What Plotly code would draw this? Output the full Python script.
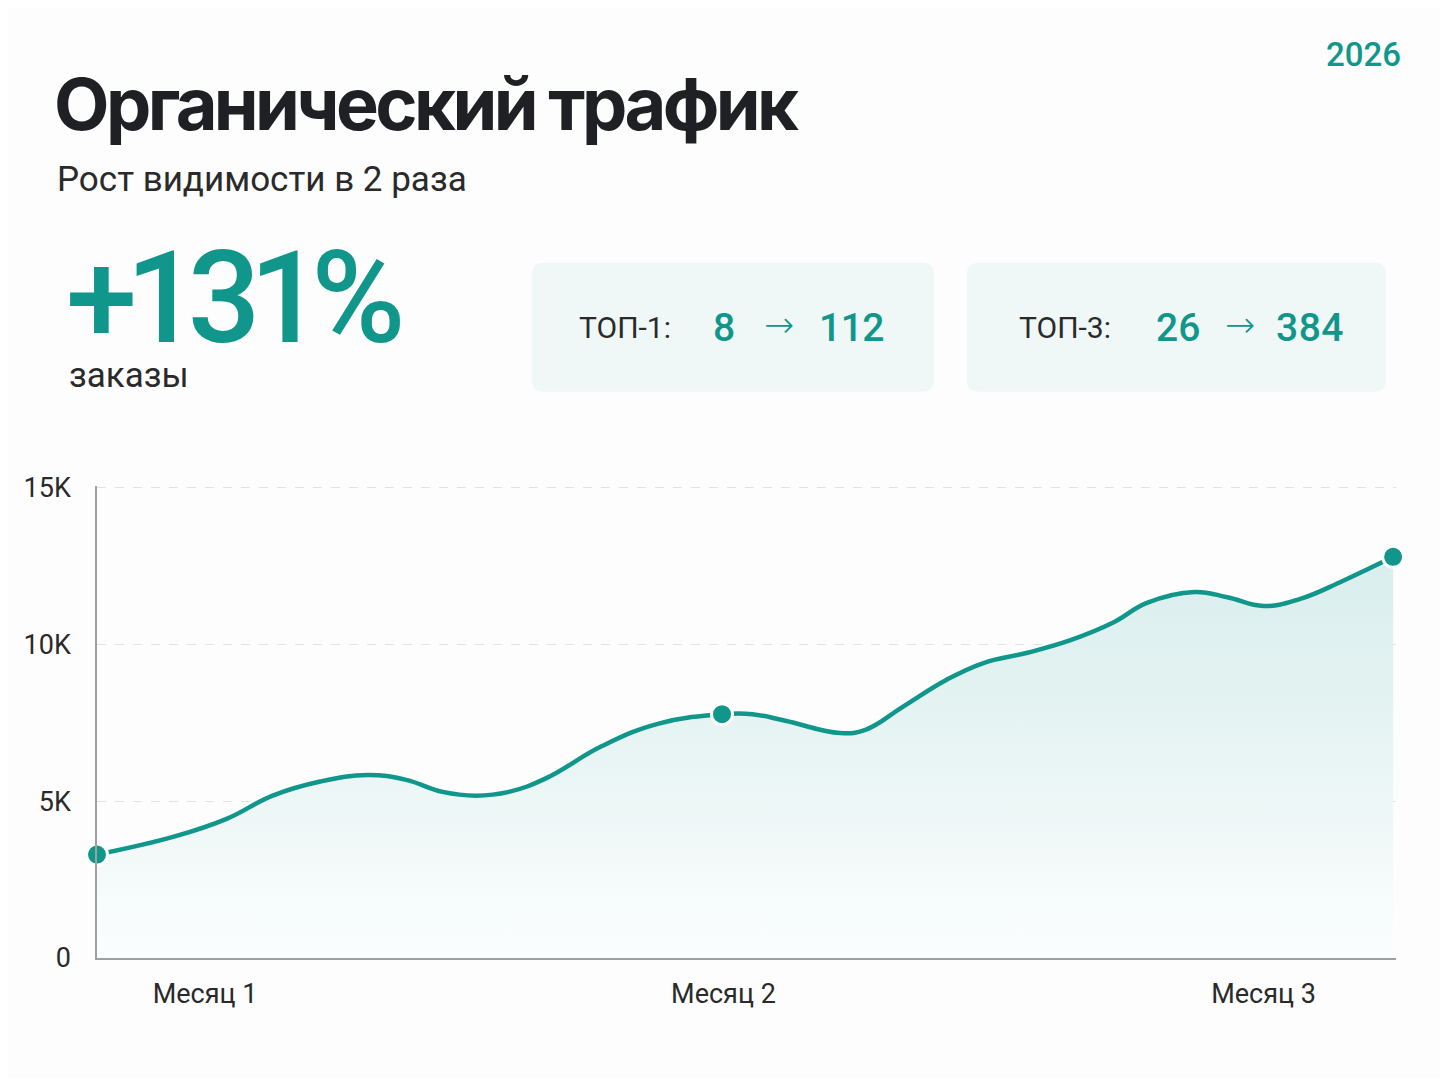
import plotly.graph_objects as go

# ---- data ----
days = [0, 5.4, 9.0, 12.2, 15.5, 18.8, 21.4, 24.0, 26.3, 28.6, 31.2, 35.1, 39.0, 43.4,
        45.5, 47.8, 51.6, 53.4, 56.0, 59.0, 61.6, 64.6, 67.6, 70.6, 72.9, 76.2, 78.5,
        81.0, 83.5, 86.5, 90.0]
visits = [3300, 3880, 4440, 5180, 5630, 5840, 5690, 5300, 5180, 5300, 5740, 6770, 7480, 7780,
          7780, 7570, 7180, 7290, 8030, 8880, 9420, 9740, 10140, 10710, 11330, 11680, 11510,
          11230, 11450, 12030, 12800]
marker_days = [0, 43.4, 90.0]
marker_visits = [3300, 7780, 12800]

month_ticks = [7.5, 43.5, 81.0]
month_labels = ["Месяц 1", "Месяц 2", "Месяц 3"]
y_ticks = [0, 5000, 10000, 15000]
y_labels = ["0", "5K", "10K", "15K"]

TEAL = "#10968a"
DARK = "#1e2024"
TXT = "#2a2a2a"

# page pixel layout (body has an 8px margin)
OFF = 8
W, H = 1432, 1070
Y_TOP = 15060
L, R, B = 97, 1396, 958
T = B - (B - 488) * Y_TOP / 15000


def px(x):
    return (x - L) / (R - L)


def py(y):
    return (B - y) / (B - T)


def rounded_rect(x0, y0, x1, y1, r):
    # pixel box -> rounded path in paper coords
    ax0, ax1 = px(x0), px(x1)
    ay0, ay1 = py(y1), py(y0)  # bottom, top
    rx, ry = r / (R - L), r / (B - T)
    return (f"M {ax0+rx},{ay0} L {ax1-rx},{ay0} Q {ax1},{ay0} {ax1},{ay0+ry} "
            f"L {ax1},{ay1-ry} Q {ax1},{ay1} {ax1-rx},{ay1} L {ax0+rx},{ay1} "
            f"Q {ax0},{ay1} {ax0},{ay1-ry} L {ax0},{ay0+ry} Q {ax0},{ay0} {ax0+rx},{ay0} Z")


fig = go.Figure()

fig.add_trace(go.Scatter(
    x=days, y=visits,
    mode="lines",
    line=dict(color=TEAL, width=4.5, shape="spline", smoothing=1.2),
    fill="tozeroy",
    fillgradient=dict(type="vertical", start=0, stop=12800,
                      colorscale=[[0, "#fcfefe"], [0.5, "#e8f5f4"], [1, "#d9eeed"]]),
    hoverinfo="skip",
    showlegend=False,
))

fig.add_trace(go.Scatter(
    x=marker_days, y=marker_visits,
    mode="markers",
    marker=dict(color=TEAL, size=21, line=dict(color="white", width=3)),
    cliponaxis=False,
    showlegend=False,
))

shapes = [
    dict(type="path", xref="paper", yref="paper", path=rounded_rect(532, 263, 934, 392, 12),
         fillcolor="#eff7f7", line=dict(width=0), layer="below"),
    dict(type="path", xref="paper", yref="paper", path=rounded_rect(967, 263, 1386, 392, 12),
         fillcolor="#eff7f7", line=dict(width=0), layer="below"),
]


def ann(text, x, y, size, color, family="Roboto", weight=400, xanchor="left", spacing=None):
    if spacing is not None:
        text = f'<span style="letter-spacing:{spacing}px">{text}</span>'
    return dict(text=text, x=px(x), y=py(y), xref="paper", yref="paper",
                xanchor=xanchor, yanchor="middle", showarrow=False,
                font=dict(family=family, size=size, color=color, weight=weight))


annotations = [
    ann("Органический трафик", 52, 104, 72, DARK, family="Inter", weight=700, spacing=-3.6),
    ann("Рост видимости в 2 раза", 55, 180, 35, TXT),
    ann("2026", 1403, 55, 33, TEAL, weight=500, xanchor="right"),
    ann("+131%", 64, 298, 128, TEAL, weight=500, spacing=-11),
    ann("заказы", 67, 376, 35, TXT),
    ann("ТОП-1:", 577, 328, 30, TXT),
    ann("8", 711, 328, 39, TEAL, weight=500),
    ann("→", 779, 325, 36, TEAL, family="DejaVu Sans", weight=300, xanchor="center"),
    ann("112", 817, 328, 39, TEAL, weight=500, spacing=-0.5),
    ann("ТОП-3:", 1017, 328, 30, TXT),
    ann("26", 1154, 328, 39, TEAL, weight=500),
    ann("→", 1240, 325, 36, TEAL, family="DejaVu Sans", weight=300, xanchor="center"),
    ann("384", 1274, 328, 39, TEAL, weight=500, spacing=0.5),
]

fig.update_layout(
    width=W, height=H,
    margin=dict(l=L - OFF, r=W - (R - OFF), t=T - OFF, b=H - (B - OFF)),
    paper_bgcolor="#fdfdfd",
    plot_bgcolor="#fdfdfd",
    shapes=shapes,
    annotations=annotations,
    font=dict(family="Roboto", color=TXT),
)

fig.update_xaxes(
    range=[0, 90.2],
    tickvals=month_ticks, ticktext=month_labels,
    tickfont=dict(size=27, color=TXT),
    showgrid=False, zeroline=False,
    showline=True, linecolor="#a0a0a0", linewidth=1.5,
    ticks="", ticklabelstandoff=11,
)
fig.update_yaxes(
    range=[0, Y_TOP],
    tickvals=y_ticks, ticktext=y_labels,
    tickfont=dict(size=27, color=TXT),
    showgrid=True, gridcolor="#e2e2e2", griddash="dash", gridwidth=1,
    zeroline=False,
    showline=True, linecolor="#a0a0a0", linewidth=1.5,
    ticks="", ticklabelstandoff=19,
)

fig.write_html("out.html")
